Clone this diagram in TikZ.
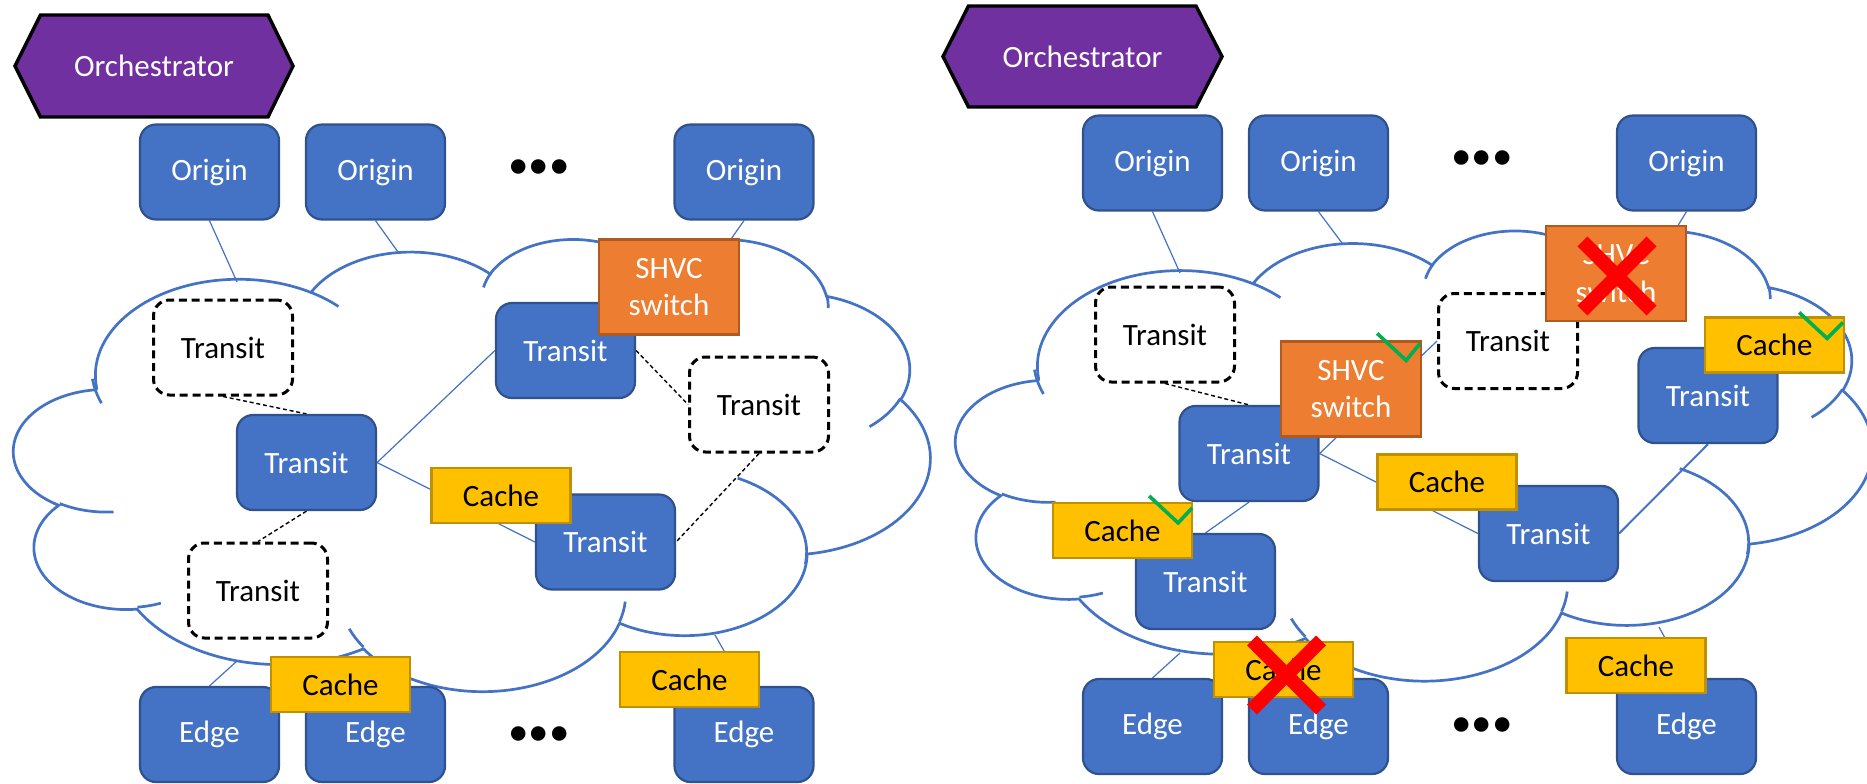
\documentclass[tikz,border=0pt]{standalone}
\usepackage{fontspec}
\setmainfont{Carlito}
\usetikzlibrary{calc}
\definecolor{obl}{HTML}{4472C4}
\definecolor{obd}{HTML}{2F528F}
\definecolor{oor}{HTML}{ED7D31}
\definecolor{oord}{HTML}{AE5A21}
\definecolor{oye}{HTML}{FFC000}
\definecolor{oyed}{HTML}{BF9000}
\definecolor{opu}{HTML}{7030A0}
\definecolor{ogr}{HTML}{00B050}
\definecolor{ore}{HTML}{FF0000}
\pgfdeclarelayer{bg}
\pgfsetlayers{bg,main}
% visual (OOXML) angle -> parametric angle
\newcommand\cpar[4]{\pgfmathsetmacro#1{(#4)+mod(atan2((#2)*sin(#4),(#3)*cos(#4))-(#4)+540,360)-180}\global\let#1#1}
\newcommand\carc[4]{\pgfextra{\cpar\cts{#1}{#2}{#3}\cpar\cte{#1}{#2}{#3+#4}} arc[start angle=\cts,end angle=\cte,x radius=#1,y radius=#2]}
\newcommand\cloudpaths{%
  \draw[cloudline,fill=white] (39.00,143.70)
    \carc{67.53}{91.90}{-190.4875}{123.7805}
    \carc{53.33}{72.67}{-144.1024}{89.9452}
    \carc{43.65}{59.45}{-145.8079}{99.7230}
    \carc{48.57}{65.95}{-130.9861}{117.2417}
    \carc{53.33}{72.73}{-78.7089}{109.0269}
    \carc{67.75}{92.20}{-46.2673}{130.2690}
    \carc{57.85}{78.67}{0.6250}{114.0333}
    \carc{67.52}{92.15}{22.4516}{115.1726}
    \carc{77.20}{105.43}{66.2426}{75.7110}
    \carc{43.60}{59.18}{-274.9421}{146.7356}
    \carc{43.45}{59.45}{-246.8285}{152.5189}
    -- cycle;
  \draw[cloudline]
    (46.93,261.77) \carc{43.45}{59.45}{86.7420}{26.4295}
    (69.28,348.99) \carc{43.60}{59.18}{73.6105}{11.4475}
    (164.78,390.90) \carc{67.52}{92.15}{137.6242}{14.0811}
    (288.27,347.51) \carc{67.52}{92.15}{6.4533}{15.9984}
    (341.29,229.54) \carc{57.85}{78.67}{-70.2924}{81.5715}
    (417.98,153.54) \carc{53.33}{72.73}{30.3180}{27.7515}
    (383.24,54.26) \carc{48.57}{65.95}{-13.7443}{14.8589}
    (290.78,39.52) \carc{48.57}{65.95}{-149.1815}{18.1954}
    (221.41,47.20) \carc{43.65}{59.45}{-163.4943}{17.6864}
    (140.00,51.92) \carc{67.53}{91.90}{-66.7070}{12.3194}
    (41.27,157.89) \carc{67.53}{91.90}{151.8499}{19.4249};
}
\begin{document}
\begin{tikzpicture}[x=0.5pt,y=-0.5pt,
  base/.style={font=\fontsize{15.5}{18.7}\selectfont,inner sep=0pt,align=center},
  bluebox/.style={base,rounded corners=8pt,fill=obl,draw=obd,line width=1.1pt,minimum width=69.5pt,minimum height=47.5pt,text=white},
  dashbox/.style={base,rounded corners=8pt,draw=black,line width=1.5pt,dash pattern=on 4pt off 2.4pt,minimum width=69.5pt,minimum height=47.5pt},
  cachebox/.style={base,fill=oye,draw=oyed,line width=1.1pt,minimum width=69.5pt,minimum height=27.5pt},
  shvcbox/.style={base,fill=oor,draw=oord,line width=1.1pt,minimum width=70pt,minimum height=47.5pt,text=white},
  orchtext/.style={base,text=white},
  hexa/.style={fill=opu,draw=black,line width=1.7pt,line join=miter},
  cloudline/.style={draw=obl,line width=1.35pt},
  link/.style={draw=obl,line width=0.6pt},
  dlink/.style={draw=black,line width=0.7pt,dash pattern=on 2pt off 1.4pt},
  tick/.style={draw=ogr,line width=1.8pt,line join=miter},
  cross/.style={draw=ore,line width=7pt,line cap=butt},
  dotsnode/.style={font=\fontsize{20.5}{20.5}\selectfont,inner sep=0pt}
]
\useasboundingbox (0,0) rectangle (1867,783);

% ---------------- left panel ----------------
\draw[hexa] (15,66) -- (40.5,15) -- (268,15) -- (293,66) -- (268,117) -- (40.5,117) -- cycle;
\node[orchtext] (orchL) at (154,66) {Orchestrator};

\node[bluebox] (o1) at (209.5,172) {Origin};
\node[bluebox] (o2) at (375.5,172) {Origin};
\node[dotsnode] (dotsL1) at (539,169) {•••};
\node[bluebox] (o3) at (744,172) {Origin};

\node[bluebox] (t2) at (565.5,350.5) {Transit};
\node[shvcbox] (shvc) at (669,287) {SHVC\\switch};
\node[dashbox] (dt1) at (223,347.5) {Transit};
\node[dashbox] (dt2) at (759,404.5) {Transit};
\node[bluebox] (t1) at (306.5,462.5) {Transit};
\node[bluebox] (t3) at (605.5,542) {Transit};
\node[cachebox] (ca1) at (501,495.5) {Cache};
\node[dashbox] (dt3) at (258,590.5) {Transit};

\node[bluebox] (e1) at (209.5,734.5) {Edge};
\node[bluebox] (e2) at (375.5,734.5) {Edge};
\node[dotsnode] (dotsL2) at (539,736) {•••};
\node[bluebox] (e3) at (744,734.5) {Edge};
\node[cachebox] (caL) at (340.5,684.5) {Cache};
\node[cachebox] (caR) at (689.5,679.5) {Cache};

\coordinate (cL1) at (237,282);
\coordinate (cL2) at (398,252);
\coordinate (cL3) at (731,239);
\coordinate (cL4) at (237,661);
\coordinate (cL5) at (715,635);

% ---------------- right panel ----------------
\draw[hexa] (943,56.5) -- (968.5,6) -- (1196,6) -- (1222,56.5) -- (1196,107) -- (968.5,107) -- cycle;
\node[orchtext] (orchR) at (1082.5,56.5) {Orchestrator};

\node[bluebox] (ro1) at (1152.5,163) {Origin};
\node[bluebox] (ro2) at (1318.5,163) {Origin};
\node[dotsnode] (dotsR1) at (1482,160) {•••};
\node[bluebox] (ro3) at (1686.5,163) {Origin};

\node[dashbox] (rdt1) at (1165,334.5) {Transit};
\node[dashbox] (rdt2) at (1508,341) {Transit};
\node[shvcbox] (rshvcx) at (1616,273.5) {SHVC\\switch};
\node[bluebox] (rt1) at (1249,453.5) {Transit};
\node[shvcbox] (rshvc) at (1351,389) {SHVC\\switch};
\node[bluebox] (rt2) at (1205.5,581.5) {Transit};
\node[cachebox] (rca1) at (1122.5,530.5) {Cache};
\node[bluebox] (rt3) at (1548.5,533.5) {Transit};
\node[cachebox] (rca2) at (1447,482) {Cache};
\node[bluebox] (rt4) at (1708,395.5) {Transit};
\node[cachebox] (rca3) at (1774.5,345) {Cache};

\node[bluebox] (re1) at (1152.5,726.5) {Edge};
\node[bluebox] (re2) at (1318.5,726.5) {Edge};
\node[dotsnode] (dotsR2) at (1482,727) {•••};
\node[bluebox] (re3) at (1686.5,726.5) {Edge};
\node[cachebox] (rcaX) at (1283.5,669.5) {Cache};
\node[cachebox] (rca4) at (1636,665.5) {Cache};

\coordinate (cR1) at (1180,273);
\coordinate (cR2) at (1342,243);
\coordinate (cR3) at (1677,227);
\coordinate (cR4) at (1180,653);
\coordinate (cR5) at (1659,627);

% ticks and crosses
\draw[tick] ($(rshvc.north east)+(-45,-7)$) -- ($(rshvc.north east)+(-16,20)$) -- ($(rshvc.north east)+(-2,3)$);
\draw[tick] ($(rca1.north east)+(-44,-6)$) -- ($(rca1.north east)+(-15,21)$) -- ($(rca1.north east)+(-1,6)$);
\draw[tick] ($(rca3.north east)+(-46,-4)$) -- ($(rca3.north east)+(-18,22)$) -- ($(rca3.north east)+(-2,6)$);
\coordinate (xs) at ($(rshvcx.center)+(1,2.5)$);
\coordinate (xc) at ($(rcaX.center)+(3,5.5)$);
\draw[cross] ($(xs)+(-34.6,-34.6)$) -- ($(xs)+(34.6,34.6)$);
\draw[cross] ($(xs)+(34.6,-34.6)$) -- ($(xs)+(-34.6,34.6)$);
\draw[cross] ($(xc)+(-34.6,-34.6)$) -- ($(xc)+(34.6,34.6)$);
\draw[cross] ($(xc)+(34.6,-34.6)$) -- ($(xc)+(-34.6,34.6)$);

% ---------------- background: clouds and links ----------------
\begin{pgfonlayer}{bg}
  \begin{scope}[shift={(14,238)},xscale=2.12037,yscale=1.04630]
    \cloudpaths
  \end{scope}
  \begin{scope}[shift={(956,229.5)},xscale=2.12037,yscale=1.04167]
    \cloudpaths
  \end{scope}
  \draw[link] (o1.south) -- (cL1);
  \draw[link] (o2.south) -- (cL2);
  \draw[link] (o3.south) -- (cL3);
  \draw[link] (e1.north) -- (cL4);
  \draw[link] (e3.north) -- (cL5);
  \draw[dlink] (dt1.south) -- (t1.north);
  \draw[link] (t1.east) -- (t2.west);
  \draw[link] (t1.east) -- (t3.west);
  \draw[dlink] (t1.south) -- (dt3.north);
  \draw[dlink] (t2.east) -- (dt2.west);
  \draw[dlink] (dt2.south) -- (t3.east);

  \draw[link] (ro1.south) -- (cR1);
  \draw[link] (ro2.south) -- (cR2);
  \draw[link] (ro3.south) -- (cR3);
  \draw[link] (re1.north) -- (cR4);
  \draw[link] (re3.north) -- (cR5);
  \draw[dlink] (rdt1.south) -- (rt1.north);
  \draw[link] (rt1.east) -- (rdt2.west);
  \draw[link] (rt1.east) -- (rt3.west);
  \draw[link] (rt1.south) -- (rt2.north);
  \draw[link,line width=1pt] (rt4.south) -- (rt3.east);
\end{pgfonlayer}
\end{tikzpicture}
\end{document}
